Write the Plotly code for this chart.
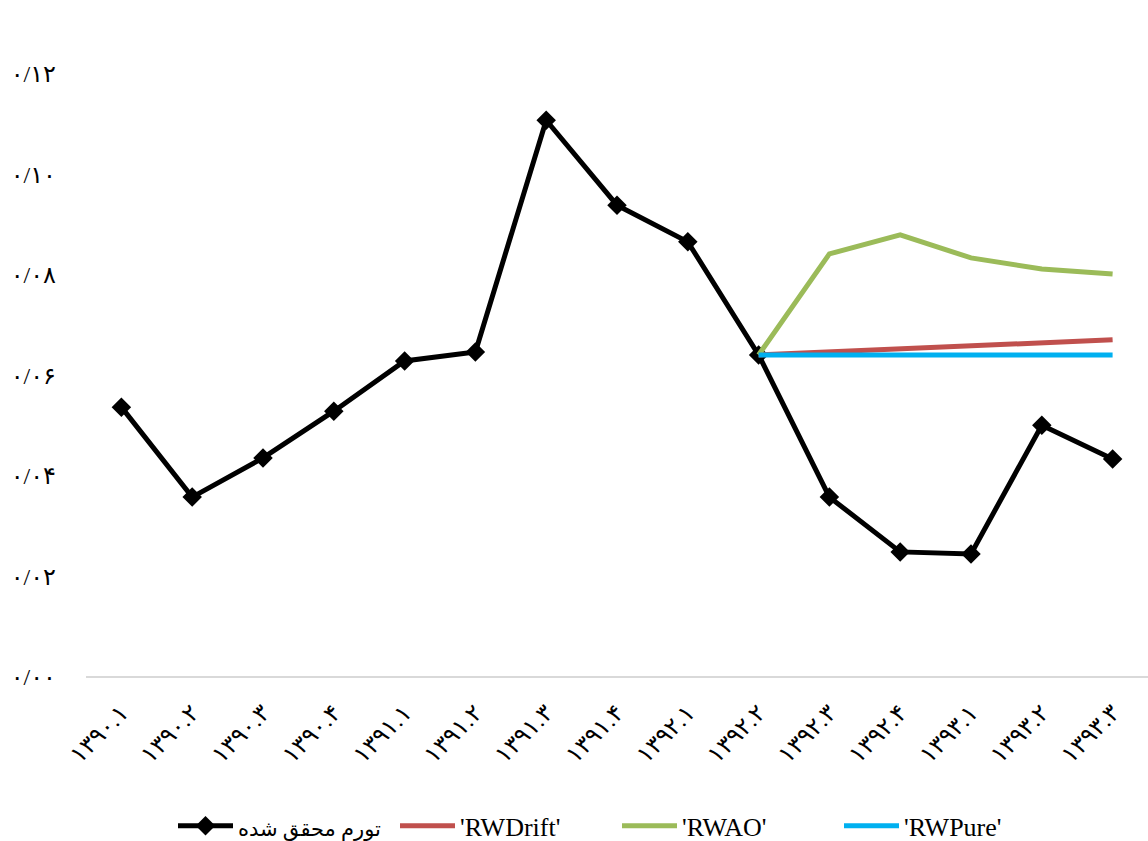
import plotly.graph_objects as go

# Quarterly periods (Persian calendar)
periods = ["۱۳۹۰.۱", "۱۳۹۰.۲", "۱۳۹۰.۳", "۱۳۹۰.۴",
           "۱۳۹۱.۱", "۱۳۹۱.۲", "۱۳۹۱.۳", "۱۳۹۱.۴",
           "۱۳۹۲.۱", "۱۳۹۲.۲", "۱۳۹۲.۳", "۱۳۹۲.۴",
           "۱۳۹۳.۱", "۱۳۹۳.۲", "۱۳۹۳.۳"]

# Realised inflation
actual = [0.0537, 0.0358, 0.0436, 0.0529, 0.0629, 0.0647, 0.1108, 0.0939,
          0.0866, 0.0641, 0.0358, 0.0249, 0.0245, 0.0501, 0.0434]

# Forecasts start at the last observed quarter (۱۳۹۲.۲)
forecast_periods = periods[9:]
rw_drift = [0.0641, 0.0647, 0.0653, 0.0659, 0.0665, 0.0671]
rw_ao = [0.0641, 0.0842, 0.0880, 0.0834, 0.0812, 0.0802]
rw_pure = [0.0641, 0.0641, 0.0641, 0.0641, 0.0641, 0.0641]

y_ticks = [0.00, 0.02, 0.04, 0.06, 0.08, 0.10, 0.12]
y_tick_text = ["۰/۰۰", "۰/۰۲", "۰/۰۴", "۰/۰۶", "۰/۰۸", "۰/۱۰", "۰/۱۲"]

series_names = ["تورم محقق شده", "'RWDrift'", "'RWAO'", "'RWPure'"]
colors = ["#000000", "#C0504D", "#9BBB59", "#00B0F0"]

FONT = "Liberation Serif, DejaVu Serif, DejaVu Sans, serif"

# The Persian label renders wider in the Arabic fallback font, so it gets a smaller size
legend_labels = ['<span style="font-size:21px">' + series_names[0] + '</span>'] + series_names[1:]

fig = go.Figure()
fig.add_trace(go.Scatter(
    x=periods, y=actual, name=legend_labels[0], mode="lines+markers",
    line=dict(color=colors[0], width=5),
    marker=dict(symbol="diamond", size=15, color=colors[0]),
))
fig.add_trace(go.Scatter(
    x=forecast_periods, y=rw_drift, name=legend_labels[1], mode="lines",
    line=dict(color=colors[1], width=5),
))
fig.add_trace(go.Scatter(
    x=forecast_periods, y=rw_ao, name=legend_labels[2], mode="lines",
    line=dict(color=colors[2], width=5),
))
fig.add_trace(go.Scatter(
    x=forecast_periods, y=rw_pure, name=legend_labels[3], mode="lines",
    line=dict(color=colors[3], width=5),
))

fig.update_layout(
    width=1148, height=841,
    margin=dict(l=86, r=0, t=74, b=164),
    paper_bgcolor="white", plot_bgcolor="white",
    font=dict(family=FONT, size=22, color="black"),
    showlegend=True,
    legend=dict(
        orientation="h", x=0.5, xanchor="center",
        yref="container", y=0.018, yanchor="middle",
        font=dict(family=FONT, size=26, color="black"),
        itemwidth=55, entrywidth=152, entrywidthmode="pixels",
        traceorder="normal",
    ),
    hovermode=False,
)
fig.update_xaxes(
    type="category", categoryorder="array", categoryarray=periods,
    range=[-0.5, len(periods) - 0.5],
    tickangle=-45, showgrid=False, zeroline=False,
    showline=False, ticks="", automargin=False, ticklabelstandoff=16,
    tickfont=dict(family=FONT, size=24),
)
fig.update_yaxes(
    range=[0, 0.12], tickvals=y_ticks, ticktext=y_tick_text,
    showgrid=False, zeroline=True, zerolinecolor="#D9D9D9", zerolinewidth=2,
    showline=False, ticks="", automargin=False, ticklabelstandoff=29,
    tickfont=dict(family=FONT, size=24),
)

fig.write_html("out.html")
